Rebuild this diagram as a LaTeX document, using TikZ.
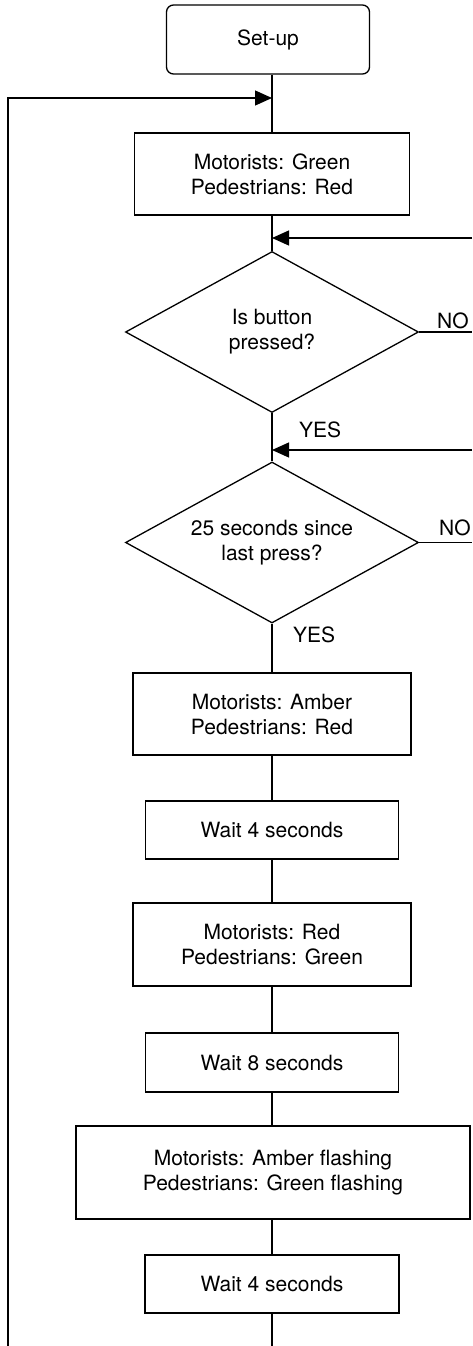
\documentclass[tikz,border=0pt]{standalone}
\usepackage{fontspec}
\setmainfont{TeX Gyre Heros}
\usetikzlibrary{shapes.geometric,arrows.meta}
\begin{document}
\begin{tikzpicture}[x=1pt,y=-1pt,
  every node/.style={font=\fontsize{21}{25}\selectfont, text=black},
  flow/.style={draw=black, line width=1.3pt},
  stepbox/.style={draw=black, line width=1.3pt, rectangle, inner sep=0pt, align=center},
  startbox/.style={stepbox, rounded corners=7pt},
  decision/.style={draw=black, line width=1.3pt, diamond, aspect=1.8, inner sep=0pt,
                   align=center, minimum width=293pt, minimum height=161pt},
  tip/.style={-{Triangle[length=17pt,width=15pt]}},
  lbl/.style={inner sep=0pt, anchor=west}
]
\useasboundingbox (0,0) rectangle (472,1346);

% process steps
\node[startbox, minimum width=203pt, minimum height=69pt] (setup) at (268,39.5) {Set-up};
\node[stepbox, minimum width=275pt, minimum height=82pt] (green) at (272,174)
  {Motorists: Green\\Pedestrians: Red};
\node[decision] (button) at (272,332) {Is button\\pressed?};
\node[decision] (since) at (272,542.5) {25 seconds since\\last press?};
\node[stepbox, minimum width=278pt, minimum height=82pt] (amber) at (272,714)
  {Motorists: Amber\\Pedestrians: Red};
\node[stepbox, minimum width=253pt, minimum height=58pt] (waitA) at (272,830) {Wait 4 seconds};
\node[stepbox, minimum width=278pt, minimum height=83pt] (walk) at (272,944.5)
  {Motorists: Red\\Pedestrians: Green};
\node[stepbox, minimum width=253pt, minimum height=59pt] (waitB) at (272,1062.5) {Wait 8 seconds};
\node[stepbox, minimum width=394pt, minimum height=93pt] (flash) at (273,1172.5)
  {Motorists: Amber flashing\\Pedestrians: Green flashing};
\node[stepbox, minimum width=254pt, minimum height=58pt] (waitC) at (272,1284) {Wait 4 seconds};

% junctions and free ends
\coordinate (loopIn) at (272,98);
\coordinate (noIn1) at (272,238);
\coordinate (noIn2) at (272,450);
\coordinate (rightA) at (472,238);
\coordinate (rightB) at (472,450);
\coordinate (mainEnd) at (272,1346);
\coordinate (loopEnd) at (8,1346);

% main flow
\draw[flow] (setup.south -| green.north) -- (green.north);
\draw[flow] (green) -- (button);
\draw[flow] (button) -- (since);
\draw[flow] (since) -- (amber);
\draw[flow] (amber) -- (waitA);
\draw[flow] (waitA) -- (walk);
\draw[flow] (walk) -- (waitB);
\draw[flow] (waitB.south) -- (waitB.south |- flash.north);
\draw[flow] (flash.south -| waitC.north) -- (waitC.north);
\draw[flow] (waitC) -- (mainEnd);

% loop back and NO branches
\draw[flow, tip] (loopEnd) |- (loopIn);
\draw[flow, tip] (rightA) -- (noIn1);
\draw[flow, tip] (rightB) -- (noIn2);
\draw[flow] (button.east) -- (button.east -| rightA);
\draw[flow] (since.east) -- (since.east -| rightB);

% branch labels
\node[lbl] (no1) at (437,321) {NO};
\node[lbl] (no2) at (439,528) {NO};
\node[lbl] (yes1) at (299,430) {YES};
\node[lbl] (yes2) at (293,635) {YES};
\end{tikzpicture}
\end{document}
